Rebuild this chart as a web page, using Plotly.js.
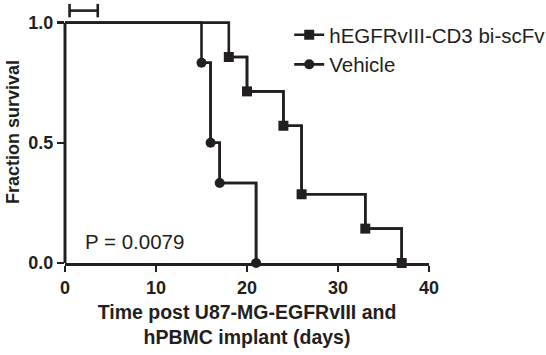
<!DOCTYPE html>
<html>
<head>
<meta charset="utf-8">
<script src="https://cdn.plot.ly/plotly-3.0.1.min.js"></script>
<style>html,body{margin:0;padding:0;background:#fff;}#chart{width:546px;height:355px;}</style>
</head>
<body>
<div id="chart"></div>
<script>
// Data
var seriesNames = ["hEGFRvIII-CD3 bi-scFv", "Vehicle"];
var treatTimes = [18, 20, 24, 26, 33, 37];
var treatSurvival = [0.857, 0.714, 0.571, 0.286, 0.143, 0.0];
var vehicleTimes = [15, 16, 17, 21];
var vehicleSurvival = [0.833, 0.5, 0.333, 0.0];
var startTime = [0];
var startSurvival = [1.0];
var dosingDays = [0.5, 3.6];
var xTicks = [0, 10, 20, 30, 40];
var yTicks = [0.0, 0.5, 1.0];
var pValueText = "P = 0.0079";

var ink = "#231f20";
var FONT = "Liberation Sans, Arial, sans-serif";

function lineTrace(t, s) {
  return {
    x: startTime.concat(t), y: startSurvival.concat(s),
    mode: "lines", line: {shape: "hv", color: ink, width: 2.6},
    showlegend: false, hoverinfo: "skip", cliponaxis: false
  };
}
function markerTrace(t, s, name, symbol) {
  return {
    x: t, y: s, name: name,
    mode: "lines+markers", line: {shape: "hv", color: ink, width: 2.6},
    marker: {symbol: symbol, size: 10, color: ink},
    cliponaxis: false
  };
}

var bx0 = dosingDays[0], bx1 = dosingDays[1];
var byMid = 1.05, byHalf = 0.028;
var bracket = {
  x: [bx0, bx0, null, bx0, bx1, null, bx1, bx1],
  y: [byMid - byHalf, byMid + byHalf, null, byMid, byMid, null, byMid - byHalf, byMid + byHalf],
  mode: "lines", line: {color: ink, width: 2.6}, showlegend: false,
  hoverinfo: "skip", cliponaxis: false
};

var data = [
  lineTrace(treatTimes, treatSurvival),
  lineTrace(vehicleTimes, vehicleSurvival),
  markerTrace(treatTimes, treatSurvival, seriesNames[0], "square"),
  markerTrace(vehicleTimes, vehicleSurvival, seriesNames[1], "circle"),
  bracket
];

var yTop = 1.09;
var layout = {
  width: 546, height: 355,
  margin: {l: 65, r: 117, t: 1.4, b: 92, autoexpand: false},
  paper_bgcolor: "#fff", plot_bgcolor: "#fff",
  font: {family: FONT, color: ink},
  showlegend: true,
  legend: {
    x: 0.616, y: 0.947, xanchor: "left", yanchor: "top",
    font: {family: FONT, size: 20.5, color: ink},
    bgcolor: "rgba(0,0,0,0)", tracegroupgap: 0
  },
  xaxis: {
    range: [0, 40], tickvals: xTicks, ticktext: xTicks.map(String),
    showgrid: false, zeroline: false, showline: true, linecolor: ink, linewidth: 3,
    ticks: "outside", ticklen: 6, tickwidth: 2.5, tickcolor: ink,
    tickfont: {family: FONT, size: 18, weight: "bold", color: ink},
    title: {text: "Time post U87-MG-EGFRvIII and<br>hPBMC implant (days)", standoff: 9,
      font: {family: FONT, size: 19.5, weight: "bold", color: ink}}
  },
  yaxis: {
    range: [0, yTop], tickvals: yTicks, ticktext: yTicks.map(function(v){return v.toFixed(1);}),
    showgrid: false, zeroline: false, showline: false,
    ticks: "outside", ticklen: 7, tickwidth: 2.5, tickcolor: ink,
    tickfont: {family: FONT, size: 18, weight: "bold", color: ink},
    title: {text: "Fraction survival", standoff: 4,
      font: {family: FONT, size: 18, weight: "bold", color: ink}}
  },
  shapes: [{
    type: "line", xref: "paper", yref: "y", x0: 0, x1: 0,
    y0: yTicks[0], y1: yTicks[yTicks.length - 1],
    line: {color: ink, width: 3}
  }],
  annotations: [{
    text: pValueText, xref: "x", yref: "y", x: 2.0, y: 0.088,
    xanchor: "left", yanchor: "middle", showarrow: false,
    font: {family: FONT, size: 20.5, color: ink}
  }]
};

Plotly.newPlot("chart", data, layout, {displayModeBar: false, staticPlot: true});
</script>
</body>
</html>
